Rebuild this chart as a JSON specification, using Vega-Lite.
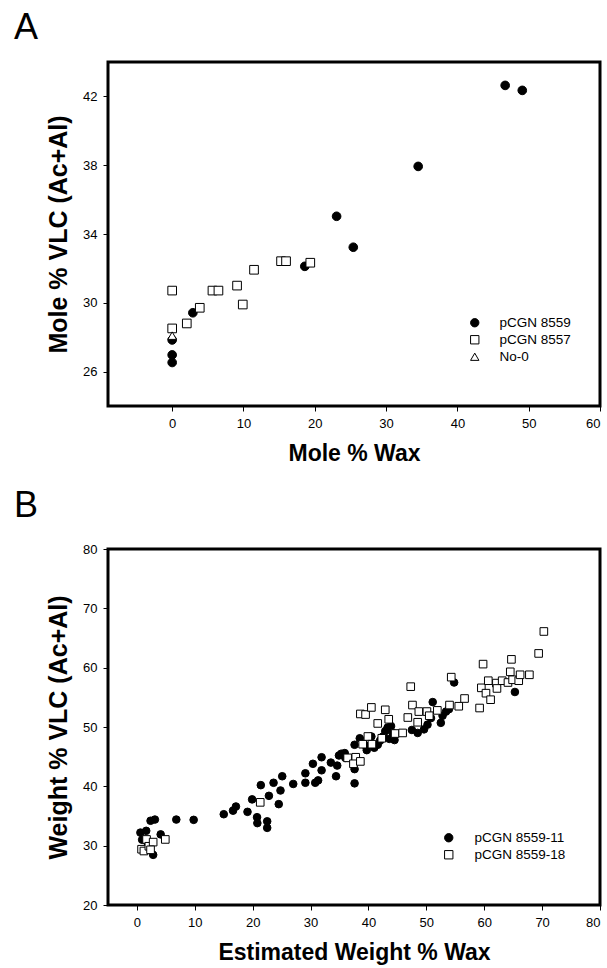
{
  "$schema": "https://vega.github.io/schema/vega-lite/v6.json",
  "padding": {"left": 12, "top": 8, "right": 5, "bottom": 5},
  "spacing": 19,
  "resolve": {"scale": {"shape": "independent", "fill": "independent", "stroke": "independent"}, "legend": {"shape": "independent", "fill": "independent", "stroke": "independent"}},
  "datasets": {
    "a": [
      {"x": 46.7, "y": 42.64, "s": "pCGN 8559"},
      {"x": 49.1, "y": 42.35, "s": "pCGN 8559"},
      {"x": 34.5, "y": 37.93, "s": "pCGN 8559"},
      {"x": 23.06, "y": 35.03, "s": "pCGN 8559"},
      {"x": 25.4, "y": 33.23, "s": "pCGN 8559"},
      {"x": 18.6, "y": 32.12, "s": "pCGN 8559"},
      {"x": 2.9, "y": 29.42, "s": "pCGN 8559"},
      {"x": 0, "y": 27.84, "s": "pCGN 8559"},
      {"x": 0, "y": 26.97, "s": "pCGN 8559"},
      {"x": 0, "y": 26.53, "s": "pCGN 8559"},
      {"x": 0, "y": 30.71, "s": "pCGN 8557"},
      {"x": 0, "y": 28.51, "s": "pCGN 8557"},
      {"x": 2.05, "y": 28.8, "s": "pCGN 8557"},
      {"x": 3.87, "y": 29.71, "s": "pCGN 8557"},
      {"x": 5.65, "y": 30.71, "s": "pCGN 8557"},
      {"x": 6.49, "y": 30.71, "s": "pCGN 8557"},
      {"x": 9.1, "y": 31.0, "s": "pCGN 8557"},
      {"x": 9.9, "y": 29.9, "s": "pCGN 8557"},
      {"x": 11.48, "y": 31.92, "s": "pCGN 8557"},
      {"x": 15.27, "y": 32.42, "s": "pCGN 8557"},
      {"x": 15.97, "y": 32.42, "s": "pCGN 8557"},
      {"x": 19.37, "y": 32.33, "s": "pCGN 8557"},
      {"x": 0, "y": 28.09, "s": "No-0"}
    ],
    "b": [
      {"x": 0.6, "y": 32.2, "s": "pCGN 8559-11"},
      {"x": 1.6, "y": 32.5, "s": "pCGN 8559-11"},
      {"x": 2.35, "y": 34.2, "s": "pCGN 8559-11"},
      {"x": 3.1, "y": 34.4, "s": "pCGN 8559-11"},
      {"x": 1.2, "y": 29.3, "s": "pCGN 8559-11"},
      {"x": 2.8, "y": 28.45, "s": "pCGN 8559-11"},
      {"x": 4.1, "y": 31.9, "s": "pCGN 8559-11"},
      {"x": 0.9, "y": 31.0, "s": "pCGN 8559-11"},
      {"x": 1.8, "y": 30.6, "s": "pCGN 8559-11"},
      {"x": 6.8, "y": 34.4, "s": "pCGN 8559-11"},
      {"x": 9.8, "y": 34.35, "s": "pCGN 8559-11"},
      {"x": 15.0, "y": 35.3, "s": "pCGN 8559-11"},
      {"x": 16.6, "y": 35.9, "s": "pCGN 8559-11"},
      {"x": 17.1, "y": 36.6, "s": "pCGN 8559-11"},
      {"x": 19.1, "y": 35.7, "s": "pCGN 8559-11"},
      {"x": 19.9, "y": 37.8, "s": "pCGN 8559-11"},
      {"x": 20.75, "y": 34.8, "s": "pCGN 8559-11"},
      {"x": 20.8, "y": 33.8, "s": "pCGN 8559-11"},
      {"x": 22.5, "y": 34.1, "s": "pCGN 8559-11"},
      {"x": 22.5, "y": 33.0, "s": "pCGN 8559-11"},
      {"x": 21.4, "y": 40.2, "s": "pCGN 8559-11"},
      {"x": 22.8, "y": 38.4, "s": "pCGN 8559-11"},
      {"x": 23.6, "y": 40.6, "s": "pCGN 8559-11"},
      {"x": 24.5, "y": 37.0, "s": "pCGN 8559-11"},
      {"x": 24.8, "y": 39.3, "s": "pCGN 8559-11"},
      {"x": 25.1, "y": 41.7, "s": "pCGN 8559-11"},
      {"x": 27.0, "y": 40.4, "s": "pCGN 8559-11"},
      {"x": 29.1, "y": 42.2, "s": "pCGN 8559-11"},
      {"x": 29.1, "y": 40.6, "s": "pCGN 8559-11"},
      {"x": 30.4, "y": 43.8, "s": "pCGN 8559-11"},
      {"x": 30.8, "y": 40.6, "s": "pCGN 8559-11"},
      {"x": 31.3, "y": 41.0, "s": "pCGN 8559-11"},
      {"x": 31.9, "y": 44.9, "s": "pCGN 8559-11"},
      {"x": 31.9, "y": 42.7, "s": "pCGN 8559-11"},
      {"x": 33.5, "y": 44.0, "s": "pCGN 8559-11"},
      {"x": 34.4, "y": 41.7, "s": "pCGN 8559-11"},
      {"x": 34.6, "y": 43.5, "s": "pCGN 8559-11"},
      {"x": 34.9, "y": 45.2, "s": "pCGN 8559-11"},
      {"x": 35.3, "y": 45.5, "s": "pCGN 8559-11"},
      {"x": 35.9, "y": 45.6, "s": "pCGN 8559-11"},
      {"x": 36.0, "y": 44.8, "s": "pCGN 8559-11"},
      {"x": 37.6, "y": 47.0, "s": "pCGN 8559-11"},
      {"x": 37.6, "y": 42.9, "s": "pCGN 8559-11"},
      {"x": 37.6, "y": 40.5, "s": "pCGN 8559-11"},
      {"x": 38.5, "y": 48.1, "s": "pCGN 8559-11"},
      {"x": 39.3, "y": 47.0, "s": "pCGN 8559-11"},
      {"x": 39.7, "y": 46.1, "s": "pCGN 8559-11"},
      {"x": 40.5, "y": 48.4, "s": "pCGN 8559-11"},
      {"x": 41.0, "y": 46.5, "s": "pCGN 8559-11"},
      {"x": 41.6, "y": 47.0, "s": "pCGN 8559-11"},
      {"x": 42.0, "y": 47.7, "s": "pCGN 8559-11"},
      {"x": 42.5, "y": 48.4, "s": "pCGN 8559-11"},
      {"x": 42.9, "y": 49.3, "s": "pCGN 8559-11"},
      {"x": 43.3, "y": 49.9, "s": "pCGN 8559-11"},
      {"x": 43.6, "y": 48.0, "s": "pCGN 8559-11"},
      {"x": 43.9, "y": 50.15, "s": "pCGN 8559-11"},
      {"x": 44.5, "y": 47.8, "s": "pCGN 8559-11"},
      {"x": 44.2, "y": 49.0, "s": "pCGN 8559-11"},
      {"x": 47.5, "y": 49.5, "s": "pCGN 8559-11"},
      {"x": 48.5, "y": 49.0, "s": "pCGN 8559-11"},
      {"x": 49.6, "y": 49.6, "s": "pCGN 8559-11"},
      {"x": 50.2, "y": 50.4, "s": "pCGN 8559-11"},
      {"x": 50.8, "y": 51.5, "s": "pCGN 8559-11"},
      {"x": 51.1, "y": 54.2, "s": "pCGN 8559-11"},
      {"x": 52.5, "y": 50.7, "s": "pCGN 8559-11"},
      {"x": 52.8, "y": 51.9, "s": "pCGN 8559-11"},
      {"x": 53.4, "y": 52.6, "s": "pCGN 8559-11"},
      {"x": 53.9, "y": 53.0, "s": "pCGN 8559-11"},
      {"x": 54.8, "y": 57.5, "s": "pCGN 8559-11"},
      {"x": 65.3, "y": 55.9, "s": "pCGN 8559-11"},
      {"x": 0.8, "y": 29.4, "s": "pCGN 8559-18"},
      {"x": 1.2, "y": 29.1, "s": "pCGN 8559-18"},
      {"x": 1.66, "y": 31.05, "s": "pCGN 8559-18"},
      {"x": 2.06, "y": 29.9, "s": "pCGN 8559-18"},
      {"x": 2.8, "y": 30.6, "s": "pCGN 8559-18"},
      {"x": 4.9, "y": 31.05, "s": "pCGN 8559-18"},
      {"x": 2.35, "y": 29.3, "s": "pCGN 8559-18"},
      {"x": 21.3, "y": 37.3, "s": "pCGN 8559-18"},
      {"x": 36.4, "y": 44.8, "s": "pCGN 8559-18"},
      {"x": 37.8, "y": 44.9, "s": "pCGN 8559-18"},
      {"x": 37.4, "y": 43.8, "s": "pCGN 8559-18"},
      {"x": 38.6, "y": 44.2, "s": "pCGN 8559-18"},
      {"x": 38.6, "y": 52.2, "s": "pCGN 8559-18"},
      {"x": 39.5, "y": 52.1, "s": "pCGN 8559-18"},
      {"x": 40.5, "y": 53.3, "s": "pCGN 8559-18"},
      {"x": 39.0, "y": 47.1, "s": "pCGN 8559-18"},
      {"x": 39.9, "y": 48.4, "s": "pCGN 8559-18"},
      {"x": 40.6, "y": 47.1, "s": "pCGN 8559-18"},
      {"x": 41.6, "y": 50.6, "s": "pCGN 8559-18"},
      {"x": 42.3, "y": 48.1, "s": "pCGN 8559-18"},
      {"x": 42.9, "y": 52.9, "s": "pCGN 8559-18"},
      {"x": 43.5, "y": 51.3, "s": "pCGN 8559-18"},
      {"x": 44.6, "y": 48.9, "s": "pCGN 8559-18"},
      {"x": 45.9, "y": 49.0, "s": "pCGN 8559-18"},
      {"x": 46.8, "y": 51.6, "s": "pCGN 8559-18"},
      {"x": 47.3, "y": 56.8, "s": "pCGN 8559-18"},
      {"x": 47.6, "y": 53.7, "s": "pCGN 8559-18"},
      {"x": 48.5, "y": 50.8, "s": "pCGN 8559-18"},
      {"x": 48.7, "y": 52.6, "s": "pCGN 8559-18"},
      {"x": 50.1, "y": 52.6, "s": "pCGN 8559-18"},
      {"x": 50.5, "y": 51.9, "s": "pCGN 8559-18"},
      {"x": 51.9, "y": 52.8, "s": "pCGN 8559-18"},
      {"x": 54.0, "y": 53.7, "s": "pCGN 8559-18"},
      {"x": 54.3, "y": 58.4, "s": "pCGN 8559-18"},
      {"x": 55.6, "y": 53.5, "s": "pCGN 8559-18"},
      {"x": 56.6, "y": 54.8, "s": "pCGN 8559-18"},
      {"x": 59.2, "y": 53.2, "s": "pCGN 8559-18"},
      {"x": 59.5, "y": 56.6, "s": "pCGN 8559-18"},
      {"x": 59.8, "y": 60.6, "s": "pCGN 8559-18"},
      {"x": 60.3, "y": 55.7, "s": "pCGN 8559-18"},
      {"x": 60.7, "y": 57.8, "s": "pCGN 8559-18"},
      {"x": 61.1, "y": 54.6, "s": "pCGN 8559-18"},
      {"x": 62.1, "y": 57.4, "s": "pCGN 8559-18"},
      {"x": 62.2, "y": 56.5, "s": "pCGN 8559-18"},
      {"x": 63.1, "y": 57.8, "s": "pCGN 8559-18"},
      {"x": 64.1, "y": 57.5, "s": "pCGN 8559-18"},
      {"x": 64.5, "y": 59.3, "s": "pCGN 8559-18"},
      {"x": 64.7, "y": 61.4, "s": "pCGN 8559-18"},
      {"x": 64.9, "y": 57.96, "s": "pCGN 8559-18"},
      {"x": 65.96, "y": 57.8, "s": "pCGN 8559-18"},
      {"x": 66.2, "y": 58.8, "s": "pCGN 8559-18"},
      {"x": 67.8, "y": 58.8, "s": "pCGN 8559-18"},
      {"x": 69.4, "y": 62.4, "s": "pCGN 8559-18"},
      {"x": 70.3, "y": 66.1, "s": "pCGN 8559-18"}
    ]
  },
  "vconcat": [
    {
      "title": {"text": "A", "offset": 15},
      "width": 492,
      "height": 344,
      "data": {"name": "a"},
      "mark": {"type": "point", "filled": true, "strokeWidth": 1, "opacity": 1, "size": 75},
      "encoding": {
        "x": {"field": "x", "type": "quantitative", "scale": {"domain": [-9, 60], "nice": false, "zero": false}, "axis": {"values": [0, 10, 20, 30, 40, 50, 60], "title": "Mole % Wax"}},
        "y": {"field": "y", "type": "quantitative", "scale": {"domain": [24, 44], "nice": false, "zero": false}, "axis": {"values": [26, 30, 34, 38, 42], "title": "Mole % VLC (Ac+Al)"}},
        "shape": {"field": "s", "type": "nominal", "scale": {"domain": ["pCGN 8559", "pCGN 8557", "No-0"], "range": ["circle", "square", "triangle-up"]}, "legend": {"orient": "none", "legendX": 360, "legendY": 254, "title": null, "labelOffset": 18}},
        "fill": {"field": "s", "type": "nominal", "scale": {"domain": ["pCGN 8559", "pCGN 8557", "No-0"], "range": ["black", "white", "white"]}, "legend": {"orient": "none", "legendX": 360, "legendY": 254, "title": null, "labelOffset": 18}},
        "stroke": {"field": "s", "type": "nominal", "scale": {"domain": ["pCGN 8559", "pCGN 8557", "No-0"], "range": ["black", "black", "black"]}, "legend": {"orient": "none", "legendX": 360, "legendY": 254, "title": null, "labelOffset": 18}}
      }
    },
    {
      "title": {"text": "B", "offset": 18},
      "width": 492,
      "height": 356,
      "data": {"name": "b"},
      "mark": {"type": "point", "filled": true, "strokeWidth": 1, "opacity": 1, "size": 58},
      "encoding": {
        "x": {"field": "x", "type": "quantitative", "scale": {"domain": [-5, 80], "nice": false, "zero": false}, "axis": {"values": [0, 10, 20, 30, 40, 50, 60, 70, 80], "title": "Estimated Weight % Wax"}},
        "y": {"field": "y", "type": "quantitative", "scale": {"domain": [20, 80], "nice": false, "zero": false}, "axis": {"values": [20, 30, 40, 50, 60, 70, 80], "title": "Weight % VLC (Ac+Al)"}},
        "shape": {"field": "s", "type": "nominal", "scale": {"domain": ["pCGN 8559-11", "pCGN 8559-18"], "range": ["circle", "square"]}, "legend": {"orient": "none", "legendX": 334, "legendY": 282, "title": null, "labelOffset": 19}},
        "fill": {"field": "s", "type": "nominal", "scale": {"domain": ["pCGN 8559-11", "pCGN 8559-18"], "range": ["black", "white"]}, "legend": {"orient": "none", "legendX": 334, "legendY": 282, "title": null, "labelOffset": 19}},
        "stroke": {"field": "s", "type": "nominal", "scale": {"domain": ["pCGN 8559-11", "pCGN 8559-18"], "range": ["black", "black"]}, "legend": {"orient": "none", "legendX": 334, "legendY": 282, "title": null, "labelOffset": 19}}
      }
    }
  ],
  "config": {
    "font": "Liberation Sans",
    "view": {"stroke": "black", "strokeWidth": 3},
    "title": {"anchor": "start", "frame": "group", "fontSize": 36, "fontWeight": "normal", "font": "Liberation Sans", "color": "black", "dx": -94, "offset": 12},
    "axis": {
      "grid": false,
      "domain": false,
      "tickColor": "black",
      "tickSize": 5,
      "tickWidth": 1,
      "labelColor": "black",
      "labelFont": "Liberation Sans",
      "labelFontSize": 13,
      "labelPadding": 6,
      "titleColor": "black",
      "titleFont": "Liberation Sans",
      "titleFontSize": 23,
      "titleFontWeight": "bold",
      "titlePadding": 12
    },
    "axisY": {"titleFontSize": 25, "titlePadding": 11},
    "legend": {
      "labelFont": "Liberation Sans",
      "labelFontSize": 13.5,
      "labelColor": "black",
      "symbolStrokeWidth": 1,
      "symbolSize": 70,
      "rowPadding": 2,
      "labelOffset": 18
    }
  }
}
